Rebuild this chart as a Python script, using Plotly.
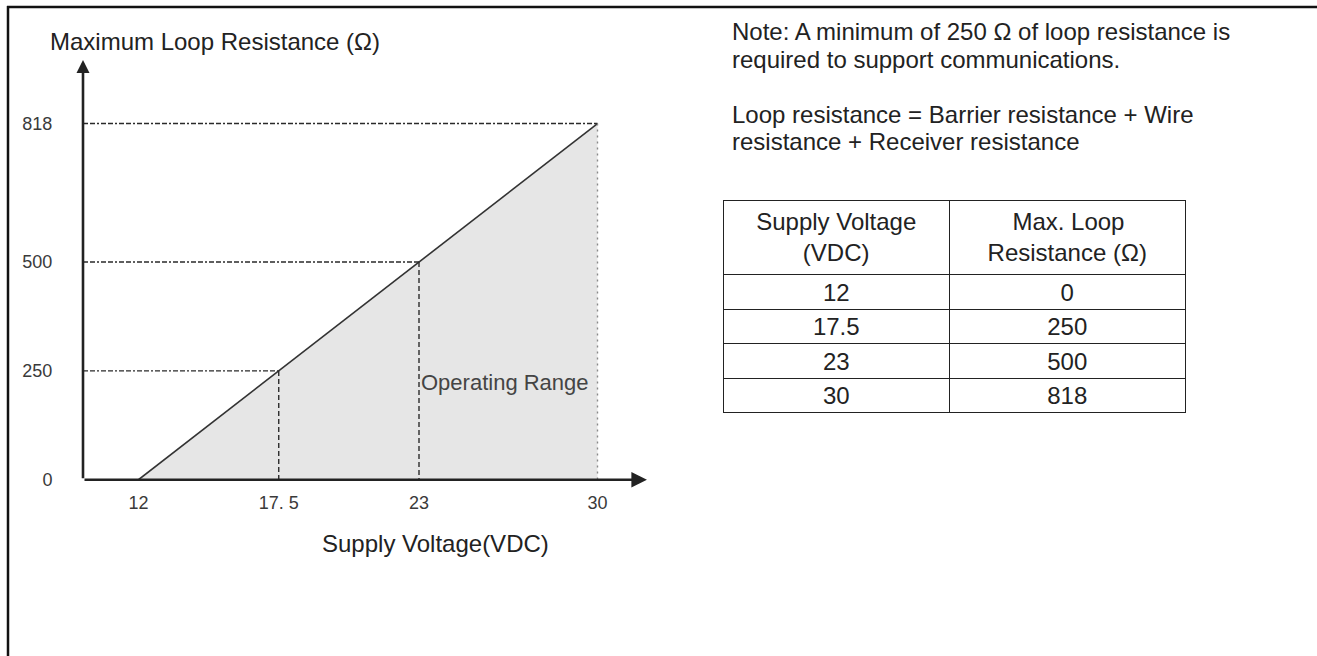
import plotly.graph_objects as go

# ---- data ----
voltage = [12, 17.5, 23, 30]
resistance = [0, 250, 500, 818]
x_tick_text = ["12", "17. 5", "23", "30"]
y_tick_text = ["0", "250", "500", "818"]
table_header = ["Supply Voltage<br>\u00a0\u00a0\u00a0\u00a0\u00a0\u00a0\u00a0(VDC)",
                "\u00a0\u00a0\u00a0\u2009Max. Loop<br>Resistance (Ω)"]
table_col_voltage = ["12", "17.5", "23", "30"]
table_col_resistance = ["0", "250", "500", "818"]
note_lines = [
    "Note: A minimum of 250 Ω of loop resistance is",
    "required to support communications.",
    "Loop resistance = Barrier resistance + Wire",
    "resistance + Receiver resistance",
]

W, H = 1317, 656
H_EFF = 645  # effective rendered height used to convert pixel targets
X_RANGE = [9.824, 32.647]
Y_RANGE = [0, 975.2]
X_ARROW_END = 31.94
Y_ARROW_END = 963.7

SANS = "Liberation Sans, Arial, sans-serif"
DARK = "#222222"


def fx(v):
    return v / W


def fy(v):
    return 1 - v / H_EFF


fig = go.Figure()

# operating range fill + max resistance line
fig.add_trace(go.Scatter(
    x=voltage, y=resistance, mode="lines", fill="tozeroy",
    fillcolor="#e6e6e6", line=dict(color="#333333", width=1.6),
    hoverinfo="skip", showlegend=False,
))

# guide lines
for v, r in zip(voltage, resistance):
    if r <= 0:
        continue
    fig.add_trace(go.Scatter(
        x=[X_RANGE[0], v], y=[r, r], mode="lines",
        line=dict(color="#2a2a2a", width=1.4, dash="5px,2px,5px,2px,2px,2px"),
        hoverinfo="skip", showlegend=False,
    ))
    last = v == voltage[-1]
    fig.add_trace(go.Scatter(
        x=[v, v], y=[r, 0], mode="lines",
        line=dict(color="#8a8a8a" if last else "#2a2a2a", width=1.4,
                  dash="2px,4px" if last else "5px,3px"),
        hoverinfo="skip", showlegend=False,
    ))

# table
fig.add_trace(go.Table(
    domain=dict(x=[fx(723), fx(1185)], y=[fy(425), fy(200)]),
    columnwidth=[226, 235],
    header=dict(values=table_header, height=71, align="center",
                fill_color="white", line=dict(color=DARK, width=1),
                font=dict(family=SANS, size=24, color=DARK)),
    cells=dict(values=[table_col_voltage, table_col_resistance], height=34.5,
               align="center", fill_color="white", line=dict(color=DARK, width=1),
               font=dict(family=SANS, size=24, color=DARK)),
))

annotations = []
# axis arrows
annotations.append(dict(x=X_ARROW_END, y=0, ax=X_RANGE[0], ay=0, xref="x", yref="y",
                        axref="x", ayref="y", text="", showarrow=True, arrowhead=2,
                        arrowsize=1.2, arrowwidth=2.6, arrowcolor="#222222", standoff=0))
annotations.append(dict(x=X_RANGE[0], y=Y_ARROW_END, ax=X_RANGE[0], ay=0, xref="x", yref="y",
                        axref="x", ayref="y", text="", showarrow=True, arrowhead=2,
                        arrowsize=1.0, arrowwidth=2.6, arrowcolor="#222222", standoff=0))
# operating range label
annotations.append(dict(x=23.0, y=223, xref="x", yref="y", text="Operating Range",
                        showarrow=False, xanchor="left", yanchor="middle",
                        font=dict(family=SANS, size=22, color="#444444")))
# axis titles
annotations.append(dict(x=fx(215), y=fy(41), xref="paper", yref="paper",
                        text="Maximum Loop Resistance (Ω)", showarrow=False,
                        xanchor="center", yanchor="middle",
                        font=dict(family=SANS, size=24, color=DARK)))
annotations.append(dict(x=fx(435), y=fy(543), xref="paper", yref="paper",
                        text="Supply Voltage(VDC)", showarrow=False,
                        xanchor="center", yanchor="middle",
                        font=dict(family=SANS, size=24, color=DARK)))
# notes
for line, ypx in zip(note_lines, [31, 59, 114, 141]):
    annotations.append(dict(x=fx(730), y=fy(ypx), xref="paper", yref="paper",
                            text=line, showarrow=False, xanchor="left", yanchor="middle",
                            font=dict(family=SANS, size=24, color=DARK)))

shapes = [
    dict(type="line", xref="paper", yref="paper", x0=fx(7), x1=1, y0=fy(7), y1=fy(7),
         line=dict(color="#111111", width=2.5)),
    dict(type="line", xref="paper", yref="paper", x0=fx(8), x1=fx(8), y0=-0.05, y1=fy(6),
         line=dict(color="#111111", width=2.5)),
]

fig.update_layout(
    width=W, height=H, margin=dict(l=0, r=0, t=0, b=0),
    paper_bgcolor="white", plot_bgcolor="white", showlegend=False,
    annotations=annotations, shapes=shapes,
    xaxis=dict(domain=[fx(83), fx(665)], range=X_RANGE, showgrid=False, zeroline=False,
               showline=False, tickvals=voltage, ticktext=x_tick_text, ticks="outside",
               ticklen=7, tickcolor="rgba(0,0,0,0)",
               tickfont=dict(family=SANS, size=18, color="#3a3a3a")),
    yaxis=dict(domain=[fy(479), fy(55)], range=Y_RANGE, showgrid=False, zeroline=False,
               showline=False, tickvals=resistance, ticktext=y_tick_text, ticks="outside",
               ticklen=26, tickcolor="rgba(0,0,0,0)",
               tickfont=dict(family=SANS, size=18, color="#3a3a3a")),
    font=dict(family=SANS),
)

post = (
    "var s='margin:0;padding:0;overflow:hidden;';"
    "document.documentElement.style.cssText=s;document.body.style.cssText=s;"
)
fig.write_html("out.html", config={"displayModeBar": False}, post_script=post)
